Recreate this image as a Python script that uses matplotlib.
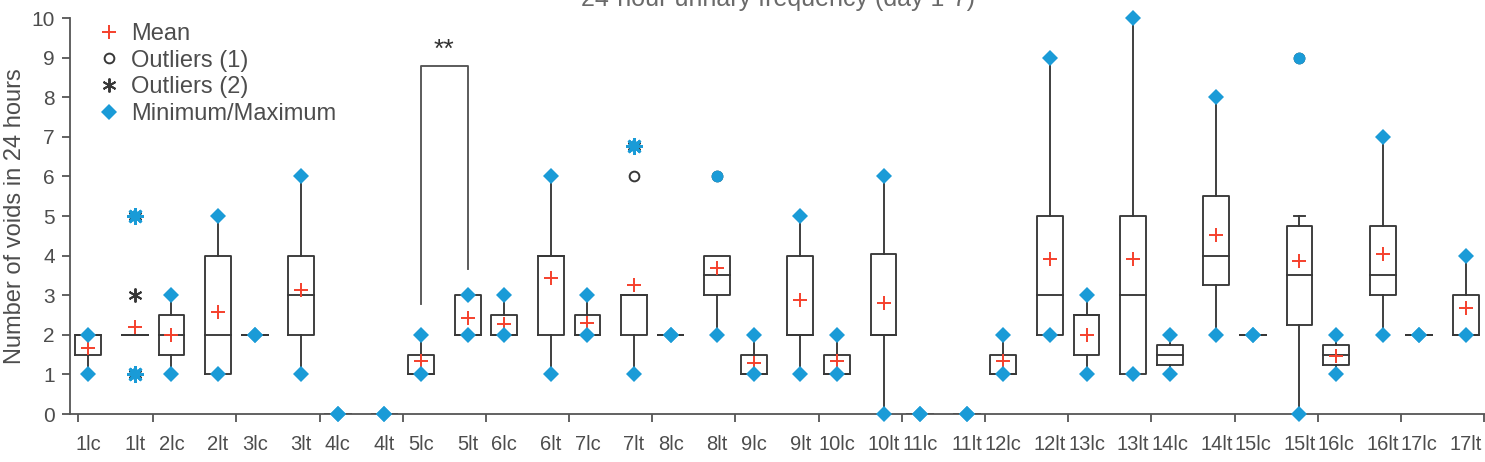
import matplotlib
matplotlib.use("Agg")
import matplotlib.pyplot as plt
from matplotlib.lines import Line2D
import numpy as np

plt.rcParams['font.family'] = ['Liberation Sans', 'DejaVu Sans']

# ---------------- data ----------------
categories = ['1lc', '1lt', '2lc', '2lt', '3lc', '3lt', '4lc', '4lt', '5lc', '5lt',
              '6lc', '6lt', '7lc', '7lt', '8lc', '8lt', '9lc', '9lt', '10lc', '10lt',
              '11lc', '11lt', '12lc', '12lt', '13lc', '13lt', '14lc', '14lt', '15lc', '15lt',
              '16lc', '16lt', '17lc', '17lt']
q1 =      [1.5, 2, 1.5, 1, 2, 2, 0, 0, 1, 2,
           2, 2, 2, 2, 2, 3, 1, 2, 1, 2,
           0, 0, 1, 2, 1.5, 1, 1.25, 3.25, 2, 2.25,
           1.25, 3, 2, 2]
median =  [2, 2, 2, 2, 2, 3, 0, 0, 1, 2,
           2, 4, 2, 3, 2, 3.5, 1, 2, 1, 2,
           0, 0, 1, 3, 2.5, 3, 1.5, 4, 2, 3.5,
           1.5, 3.5, 2, 2]
q3 =      [2, 2, 2.5, 4, 2, 4, 0, 0, 1.5, 3,
           2.5, 4, 2.5, 3, 2, 4, 1.5, 4, 1.5, 4.05,
           0, 0, 1.5, 5, 2.5, 5, 1.75, 5.5, 2, 4.75,
           1.75, 4.75, 2, 3]
whisk_lo = [1, 2, 1, 1, 2, 1, 0, 0, 1, 2,
            2, 1, 2, 1, 2, 2, 1, 1, 1, 0,
            0, 0, 1, 2, 1, 1, 1, 2, 2, 0,
            1, 2, 2, 2]
whisk_hi = [2, 2, 3, 5, 2, 6, 0, 0, 2, 3,
            3, 6, 3, 3, 2, 4, 2, 5, 2, 6,
            0, 0, 2, 9, 3, 10, 2, 8, 2, 5,
            2, 7, 2, 4]
means =   [1.67, 2.2, 2.0, 2.57, 2.0, 3.13, 0, 0, 1.33, 2.43,
           2.27, 3.43, 2.29, 3.25, 2.0, 3.69, 1.3, 2.87, 1.33, 2.8,
           0, 0, 1.33, 3.92, 2.0, 3.92, np.nan, 4.52, 2.0, 3.87,
           1.47, 4.03, 2.0, 2.67]
minimum = [1, 1, 1, 1, 2, 1, 0, 0, 1, 2,
           2, 1, 2, 1, 2, 2, 1, 1, 1, 0,
           0, 0, 1, 2, 1, 1, 1, 2, 2, 0,
           1, 2, 2, 2]
maximum = [2, 5, 3, 5, 2, 6, 0, 0, 2, 3,
           3, 6, 3, 6.78, 2, 6, 2, 5, 2, 6,
           0, 0, 2, 9, 3, 10, 2, 8, 2, 9,
           2, 7, 2, 4]
outliers1 = {'7lt': [6.0], '8lt': [6.0], '15lt': [9.0]}
outliers2 = {'1lt': [1.0, 3.0, 5.0], '7lt': [6.78]}
sig_pair = ('5lc', '5lt')
sig_y = (2.78, 8.8, 3.66)
sig_text = '**'
title = '24-hour urinary frequency (day 1-7)'
ylabel = 'Number of voids in 24 hours'

# ---------------- style ----------------
BOX = '#383838'
RED = '#f5402c'
BLUE = '#1a9bd7'
AX = '#555555'
LW = 1.35

fig = plt.figure(figsize=(14.85, 4.62), dpi=100)
ax = fig.add_axes([70 / 1485, 48 / 462, 1415 / 1485, 396 / 462])

n = len(categories)
xpos = np.array([i // 2 + (0.22 if i % 2 == 0 else 0.78) for i in range(n)])
hw = 0.155

for i, c in enumerate(categories):
    x = xpos[i]
    # box
    ax.plot([x - hw, x + hw, x + hw, x - hw, x - hw],
            [q1[i], q1[i], q3[i], q3[i], q1[i]], color=BOX, lw=LW, zorder=2)
    ax.plot([x - hw, x + hw], [median[i], median[i]], color=BOX, lw=LW, zorder=2)
    # whiskers
    if whisk_lo[i] < q1[i]:
        ax.plot([x, x], [whisk_lo[i], q1[i]], color=BOX, lw=LW, zorder=2)
        if whisk_lo[i] != minimum[i]:
            ax.plot([x - 0.07, x + 0.07], [whisk_lo[i]] * 2, color=BOX, lw=LW, zorder=2)
    if whisk_hi[i] > q3[i]:
        ax.plot([x, x], [q3[i], whisk_hi[i]], color=BOX, lw=LW, zorder=2)
        if whisk_hi[i] != maximum[i]:
            ax.plot([x - 0.07, x + 0.07], [whisk_hi[i]] * 2, color=BOX, lw=LW, zorder=2)
    # mean
    if not np.isnan(means[i]):
        ax.plot(x, means[i], marker='+', color=RED, ms=10, mew=1.4, zorder=4)
    o1 = outliers1.get(c, [])
    o2 = outliers2.get(c, [])
    for v in o1:
        ax.plot(x, v, marker='o', mfc='white', mec=BOX, ms=7, mew=1.4, zorder=3, clip_on=False)
    for v in o2:
        ax.plot(x, v, marker=(6, 2, 0), color=BOX, ms=10, mew=1.4, zorder=3, clip_on=False)
    # min / max
    for v in (minimum[i], maximum[i]):
        if v in o2:
            ax.plot(x, v, marker=(8, 2, 0), color=BLUE, ms=12, mew=2.0, zorder=5, clip_on=False)
            ax.plot(x, v, marker='D', color=BLUE, ms=7, mew=0, zorder=5, clip_on=False)
        elif v in o1:
            ax.plot(x, v, marker='o', color=BLUE, ms=8.5, mew=0, zorder=5, clip_on=False)
        else:
            ax.plot(x, v, marker='D', color=BLUE, ms=8, mew=0, zorder=5, clip_on=False)

# significance bracket
xa = xpos[categories.index(sig_pair[0])]
xb = xpos[categories.index(sig_pair[1])]
ax.plot([xa, xa, xb, xb], [sig_y[0], sig_y[1], sig_y[1], sig_y[2]], color=AX, lw=LW, zorder=2)
ax.text((xa + xb) / 2, sig_y[1] + 0.08, sig_text, ha='center', va='bottom', fontsize=19, color='#333333')

# axes
ax.set_xlim(0, 17.01)
ax.set_ylim(0, 10)
ax.spines['top'].set_visible(False)
ax.spines['right'].set_visible(False)
for s in ('left', 'bottom'):
    ax.spines[s].set_color(AX)
    ax.spines[s].set_linewidth(1.3)
major = [0.1] + list(range(1, 18))
ax.set_xticks(major)
ax.set_xticklabels([''] * len(major))
ax.set_xticks(xpos, categories, minor=True)
ax.tick_params(axis='x', which='major', length=6, width=1.3, color=AX, direction='out')
ax.tick_params(axis='x', which='minor', length=0, pad=15, labelsize=14.5, labelcolor='#4d4d4d')
ax.set_yticks(range(0, 11))
ax.tick_params(axis='y', length=6, width=1.3, color=AX, labelsize=15, labelcolor='#4d4d4d', pad=5)
ax.set_ylabel(ylabel, fontsize=17, color='#4d4d4d', labelpad=4)

# legend
handles = [Line2D([], [], ls='none', marker='+', color=RED, ms=10, mew=1.4),
           Line2D([], [], ls='none', marker='o', mfc='white', mec=BOX, ms=7, mew=1.4),
           Line2D([], [], ls='none', marker=(6, 2, 0), color=BOX, ms=10, mew=1.4),
           Line2D([], [], ls='none', marker='D', color=BLUE, ms=8, mew=0)]
leg = ax.legend(handles, ['Mean', 'Outliers (1)', 'Outliers (2)', 'Minimum/Maximum'],
                loc='upper left', bbox_to_anchor=(97 / 1485, 1 - 23 / 462),
                bbox_transform=fig.transFigure, frameon=False, fontsize=17,
                handlelength=1.0, handletextpad=0.45, labelspacing=0.2,
                borderpad=0, borderaxespad=0)
for t in leg.get_texts():
    t.set_color('#4d4d4d')

# clipped title at the very top (as in the reference)
fig.text(778 / 1485, 1 - 6 / 462, title, ha='center', va='baseline', fontsize=18, color='#6a6a6a')

fig.savefig('out.png', dpi=100)
